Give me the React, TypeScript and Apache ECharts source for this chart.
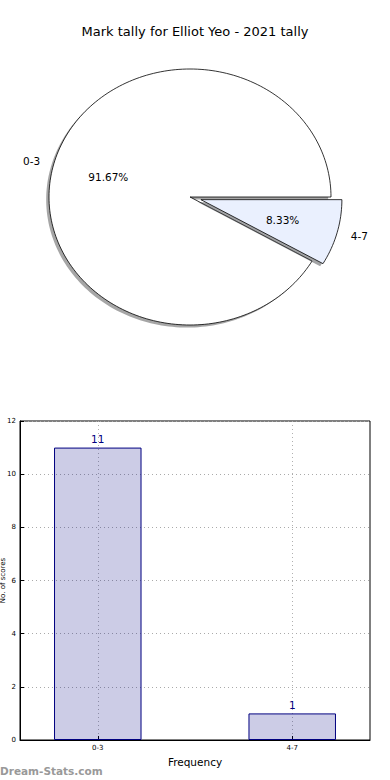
import React, { useEffect, useRef } from "react";
import * as echarts from "echarts";

const chartTitle = "Mark tally for Elliot Yeo - 2021 tally";
const categories = ["0-3", "4-7"];
const counts = [11, 1];
const pieColors = ["#ffffff", "#eaf0fe"];
const pieExplode = [0, 0.08];
const yMax = 12;
const yInterval = 2;
const xAxisName = "Frequency";
const yAxisName = "No. of scores";
const watermark = "Dream-Stats.com";

const FONT = "DejaVu Sans";

export default function App() {
  const ref = useRef<HTMLDivElement>(null);
  useEffect(() => {
    if (!ref.current) return;
    const chart = echarts.init(ref.current, null, { renderer: "svg" });

    // pie geometry (matplotlib-like elliptical pie)
    const cx = 190, cy = 197, rx = 141, ry = 128;
    const total = counts.reduce((a, b) => a + b, 0);
    const gridLeft = 20, gridTop = 421, gridW = 350, gridH = 319;
    const xMin = -0.4, xMax = 1.4;
    const barW = (gridW / (xMax - xMin)) * 0.45;

    const renderWedge = (params: any, api: any) => {
      const i = params.dataIndex;
      const v = api.value(0);
      let before = 0;
      for (let j = 0; j < i; j++) before += counts[j];
      const a0 = (before / total) * 360;
      const a1 = a0 + (v / total) * 360;
      const mid = ((a0 + a1) / 2) * Math.PI / 180;
      const e = pieExplode[i] || 0;
      const ox = cx + e * rx * Math.cos(mid);
      const oy = cy - e * ry * Math.sin(mid);
      const n = Math.max(2, Math.ceil((a1 - a0) / 1.5));
      const pts: number[][] = [[ox, oy]];
      for (let k = 0; k <= n; k++) {
        const a = (a0 + ((a1 - a0) * k) / n) * Math.PI / 180;
        pts.push([ox + rx * Math.cos(a), oy - ry * Math.sin(a)]);
      }
      const col = echarts.color.parse(pieColors[i]) as number[];
      const shadowFill = `rgba(${Math.round(col[0] * 0.3)},${Math.round(col[1] * 0.3)},${Math.round(col[2] * 0.3)},0.5)`;
      const sdx = -0.02 * rx, sdy = 0.02 * ry;
      const shadowPts = pts.map((p) => [p[0] + sdx, p[1] + sdy]);
      const cosm = Math.cos(mid), sinm = Math.sin(mid);
      const lx = ox + 1.1 * rx * cosm;
      const ly = oy - 1.1 * ry * sinm;
      const px = ox + 0.6 * rx * cosm;
      const py = oy - 0.6 * ry * sinm;
      const pct = ((v / total) * 100).toFixed(2) + "%";
      return {
        type: "group",
        children: [
          { type: "polygon", shape: { points: shadowPts }, style: { fill: shadowFill, stroke: "none" } },
          { type: "polygon", shape: { points: pts }, style: { fill: pieColors[i], stroke: "#000", lineWidth: 0.8 } },
          {
            type: "text",
            x: lx,
            y: ly,
            style: {
              text: categories[i],
              fill: "#000",
              font: `10.5px '${FONT}'`,
              align: cosm > 0 ? "left" : "right",
              verticalAlign: "middle",
            },
          },
          {
            type: "text",
            x: px,
            y: py,
            style: {
              text: pct,
              fill: "#000",
              font: `10.5px '${FONT}'`,
              align: "center",
              verticalAlign: "middle",
            },
          },
        ],
      };
    };

    chart.setOption({
      animation: false,
      backgroundColor: "#fff",
      textStyle: { fontFamily: FONT },
      title: {
        text: chartTitle,
        left: "center",
        top: 20,
        textStyle: { fontFamily: FONT, fontSize: 13, fontWeight: "normal", color: "#000" },
      },
      grid: {
        left: gridLeft,
        top: gridTop,
        width: gridW,
        height: gridH,
        containLabel: false,
        outerBoundsMode: "none",
        show: true,
        borderColor: "#000",
        borderWidth: 1,
        backgroundColor: "transparent",
      },
      xAxis: {
        type: "value",
        min: xMin,
        max: xMax,
        name: xAxisName,
        nameLocation: "middle",
        nameGap: 16,
        nameMoveOverlap: false,
        nameTextStyle: { fontFamily: FONT, fontSize: 10.5, color: "#000" },
        axisLine: { show: true, onZero: false, lineStyle: { color: "#000", width: 1 } },
        axisTick: { show: true, inside: true, length: 4, customValues: [0, 1], lineStyle: { color: "#000" } },
        axisLabel: {
          customValues: [0, 1],
          formatter: (val: number) => categories[Math.round(val)] ?? "",
          fontFamily: FONT,
          fontSize: 7,
          color: "#000",
          margin: 4,
        },
        splitLine: { show: true, lineStyle: { color: "#b0b0b0", type: [1, 3], width: 1 } },
      },
      yAxis: {
        type: "value",
        min: 0,
        max: yMax,
        interval: yInterval,
        name: yAxisName,
        nameLocation: "middle",
        nameRotate: 90,
        nameGap: 14,
        nameMoveOverlap: false,
        nameTextStyle: { fontFamily: FONT, fontSize: 7, color: "#000" },
        axisLine: { show: true, onZero: false, lineStyle: { color: "#000", width: 1 } },
        axisTick: { show: true, inside: true, length: 4, lineStyle: { color: "#000" } },
        axisLabel: { fontFamily: FONT, fontSize: 7, color: "#000", margin: 4 },
        splitLine: { show: true, lineStyle: { color: "#aaa", type: [1, 3], width: 1 } },
      },
      series: [
        {
          type: "custom",
          coordinateSystem: "none",
          data: counts.map((c) => [c]),
          renderItem: renderWedge,
          silent: true,
        },
        {
          type: "bar",
          data: counts.map((c, i) => [i, c]),
          barWidth: barW,
          itemStyle: { color: "rgba(0,0,128,0.2)", borderColor: "#000080", borderWidth: 1 },
          label: {
            show: true,
            position: "top",
            distance: 3,
            fontFamily: FONT,
            fontSize: 10.5,
            color: "#000080",
            formatter: (p: any) => String(p.value[1]),
          },
          z: 2,
        },
      ],
      graphic: [
        {
          type: "text",
          left: 0,
          top: 765,
          style: {
            text: watermark,
            fill: "#999",
            font: `bold 10.5px '${FONT}'`,
          },
        },
      ],
    });
    return () => chart.dispose();
  }, []);
  return (
    <div
      ref={ref}
      style={{ position: "fixed", left: 0, top: 0, width: 390, height: 780 }}
    />
  );
}
